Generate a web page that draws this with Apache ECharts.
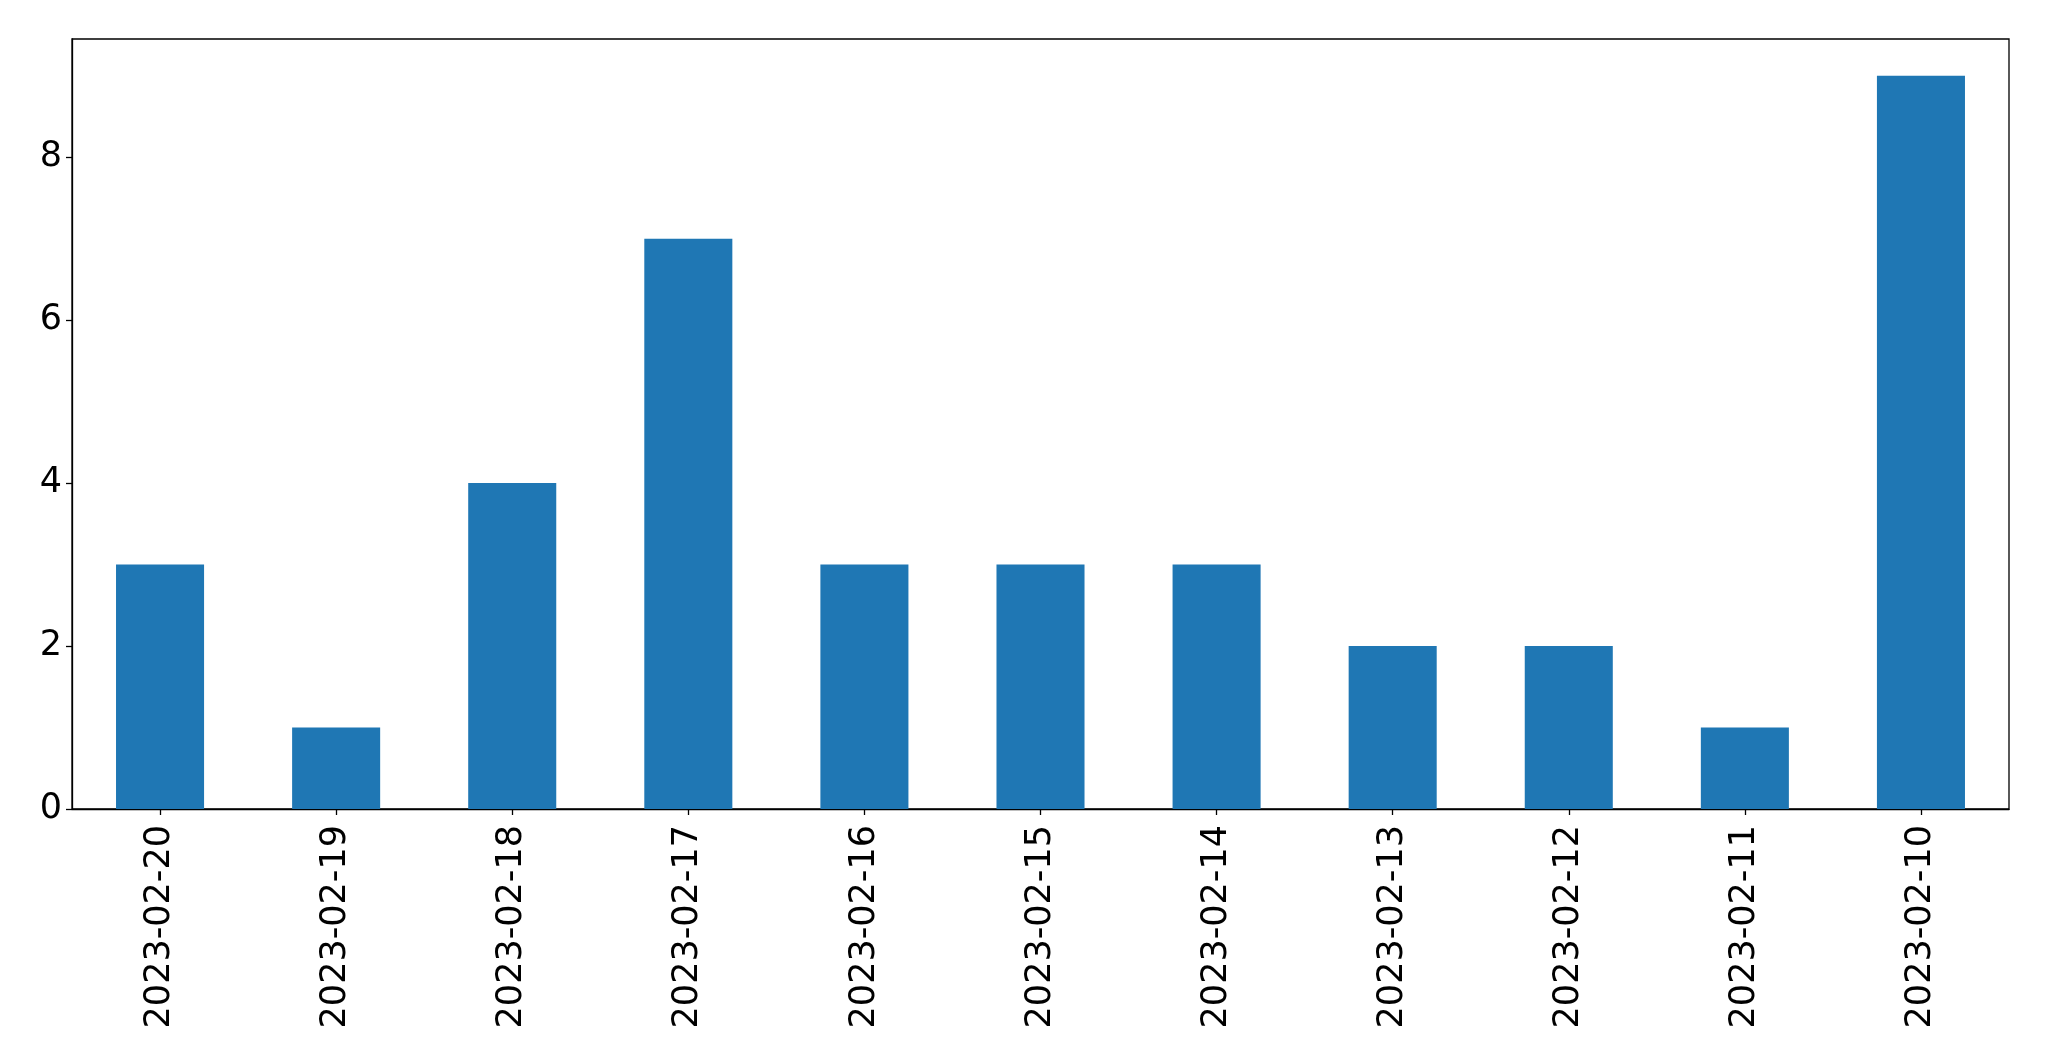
<!DOCTYPE html>
<html>
<head>
<meta charset="utf-8">
<script src="https://cdn.jsdelivr.net/npm/echarts@6/dist/echarts.min.js"></script>
<style>html,body{margin:0;padding:0;background:#fff}#c{width:2049px;height:1061px}</style>
</head>
<body>
<div id="c"></div>
<script>
const categories = ["2023-02-20","2023-02-19","2023-02-18","2023-02-17","2023-02-16","2023-02-15","2023-02-14","2023-02-13","2023-02-12","2023-02-11","2023-02-10"];
const values = [3,1,4,7,3,3,3,2,2,1,9];
const yTicks = [0,2,4,6,8];

const chart = echarts.init(document.getElementById('c'), null, {renderer:'canvas'});
chart.setOption({
  animation: false,
  backgroundColor: '#ffffff',
  grid: {left: 72, right: 40, top: 39, bottom: 252, show: true, borderColor: '#000', borderWidth: 1.3, backgroundColor: 'transparent', containLabel: false},
  xAxis: {
    type: 'category',
    data: categories,
    boundaryGap: true,
    axisLine: {show: true, lineStyle: {color: '#000', width: 1.3}},
    axisTick: {show: true, alignWithLabel: true, length: 6, lineStyle: {color: '#000', width: 1.3}},
    axisLabel: {rotate: 90, margin: 16, color: '#000', fontSize: 35, fontFamily: 'DejaVu Sans', interval: 0},
    splitLine: {show: false}
  },
  yAxis: {
    type: 'value',
    min: 0,
    max: 9.45,
    interval: 2,
    axisLine: {show: true, lineStyle: {color: '#000', width: 1.3}},
    axisTick: {show: true, length: 6, customValues: yTicks, lineStyle: {color: '#000', width: 1.3}},
    axisLabel: {margin: 10, color: '#000', fontSize: 35, fontFamily: 'DejaVu Sans',
      customValues: yTicks, formatter: v => String(v)},
    splitLine: {show: false}
  },
  series: [{
    type: 'bar',
    data: values,
    barWidth: '50%',
    itemStyle: {color: '#1f77b4'}
  }]
});
</script>
</body>
</html>
